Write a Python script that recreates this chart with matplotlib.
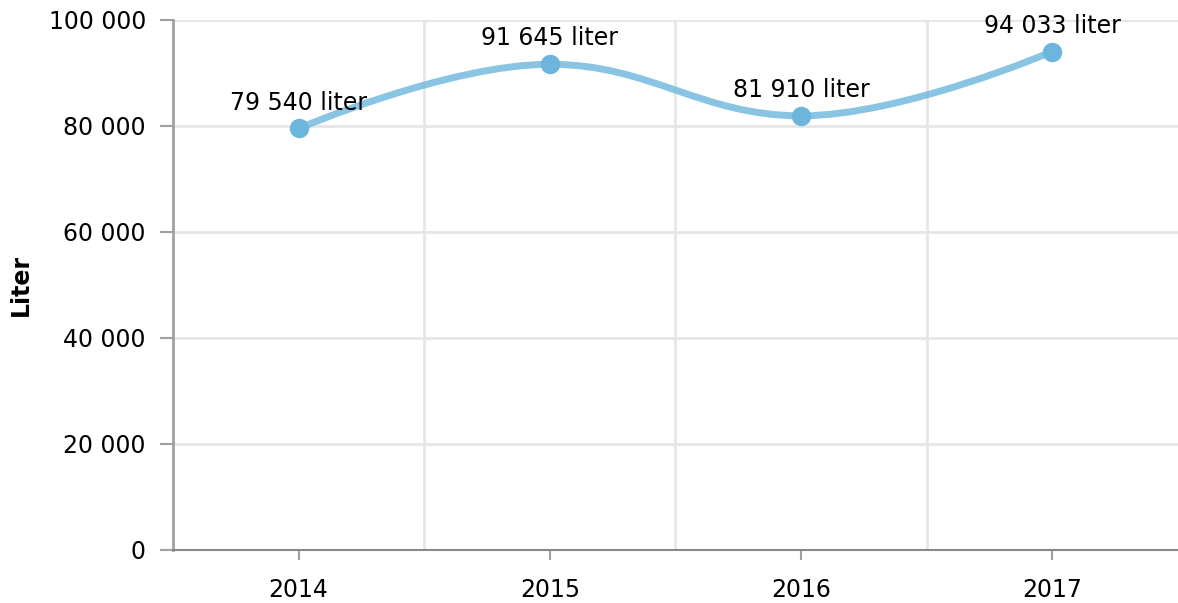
import matplotlib
matplotlib.use("Agg")
import matplotlib.pyplot as plt
from matplotlib.path import Path
from matplotlib.patches import PathPatch
from matplotlib.ticker import FuncFormatter

years = ['2014', '2015', '2016', '2017']
liters = [79540, 91645, 81910, 94033]
labels = ['79 540 liter', '91 645 liter', '81 910 liter', '94 033 liter']
yticks = [0, 20000, 40000, 60000, 80000, 100000]

LINE_COLOR = '#6cb6dd'
GRID_COLOR = '#e6e6e6'
AXIS_COLOR = '#a0a0a0'
FS = 17


def spline_path(xs, ys, smoothing=1.5):
    # highcharts style spline: bezier control points per point
    denom = smoothing + 1
    n = len(xs)
    lc = [None] * n
    rc = [None] * n
    for i in range(1, n - 1):
        px, py = xs[i], ys[i]
        lx, ly = xs[i - 1], ys[i - 1]
        nx, ny = xs[i + 1], ys[i + 1]
        lcx = (smoothing * px + lx) / denom
        lcy = (smoothing * py + ly) / denom
        rcx = (smoothing * px + nx) / denom
        rcy = (smoothing * py + ny) / denom
        if rcx != lcx:
            corr = (rcy - lcy) * (rcx - px) / (rcx - lcx) + py - rcy
            lcy += corr
            rcy += corr
        if lcy > ly and lcy > py:
            lcy = max(ly, py)
            rcy = 2 * py - lcy
        elif lcy < ly and lcy < py:
            lcy = min(ly, py)
            rcy = 2 * py - lcy
        if rcy > ny and rcy > py:
            rcy = max(ny, py)
            lcy = 2 * py - rcy
        elif rcy < ny and rcy < py:
            rcy = min(ny, py)
            lcy = 2 * py - rcy
        lc[i] = (lcx, lcy)
        rc[i] = (rcx, rcy)
    verts = [(xs[0], ys[0])]
    codes = [Path.MOVETO]
    for i in range(1, n):
        c1 = rc[i - 1] if rc[i - 1] is not None else (xs[i - 1], ys[i - 1])
        c2 = lc[i] if lc[i] is not None else (xs[i], ys[i])
        verts += [c1, c2, (xs[i], ys[i])]
        codes += [Path.CURVE4] * 3
    return Path(verts, codes)


fig = plt.figure(figsize=(11.78, 6.03), dpi=100)
ax = fig.add_axes([0.1469, 0.0879, 0.853, 0.879])

xs = list(range(len(years)))
ax.add_patch(PathPatch(spline_path(xs, liters), facecolor='none',
                       edgecolor=LINE_COLOR, lw=5, alpha=0.8,
                       capstyle='round', zorder=3))
ax.plot(xs, liters, 'o', color=LINE_COLOR, markersize=13, zorder=4)

for x, y, t in zip(xs, liters, labels):
    ax.annotate(t, (x, y), xytext=(0, 10), textcoords='offset points',
                ha='center', va='bottom', fontsize=FS, color='black', zorder=5)

ax.set_xlim(-0.5, len(years) - 0.5)
ax.set_ylim(0, 100000)
ax.set_xticks(xs)
ax.set_xticklabels(years)
ax.set_xticks([0.5, 1.5, 2.5], minor=True)
ax.set_yticks(yticks)
ax.yaxis.set_major_formatter(FuncFormatter(lambda v, p: f'{int(v):,}'.replace(',', ' ')))

ax.grid(axis='y', which='major', color=GRID_COLOR, lw=2)
ax.grid(axis='x', which='minor', color=GRID_COLOR, lw=2)
ax.grid(axis='x', which='major', visible=False)
ax.set_axisbelow(True)

for s in ['top', 'right']:
    ax.spines[s].set_visible(False)
ax.spines['left'].set_color(AXIS_COLOR)
ax.spines['left'].set_linewidth(2)
ax.spines['bottom'].set_color('#888888')
ax.spines['bottom'].set_linewidth(1.5)

ax.tick_params(axis='y', which='major', length=9.5, width=1.5, color=AXIS_COLOR,
               labelsize=FS, pad=10)
ax.tick_params(axis='x', which='major', length=7, width=1.5, color=AXIS_COLOR,
               labelsize=FS, pad=13)
ax.tick_params(axis='x', which='minor', length=0)

ax.set_ylabel('Liter', fontsize=FS, fontweight='bold', labelpad=11)

fig.savefig('out.png', dpi=100)
